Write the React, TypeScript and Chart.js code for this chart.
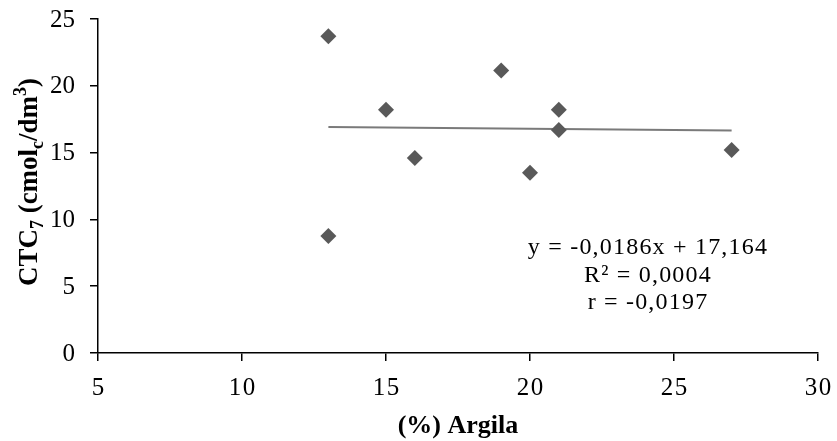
import React, { useEffect, useRef } from "react";
import { Chart, registerables } from "chart.js";

Chart.register(...registerables);

const argila = [13, 13, 15, 16, 19, 20, 21, 21, 27];
const ctc = [23.7, 8.75, 18.2, 14.6, 21.15, 13.5, 18.2, 16.7, 15.2];
const trendX = [13, 27];
const trendY = [16.922, 16.662];
const xTicks = [5, 10, 15, 20, 25, 30];
const yTicks = [0, 5, 10, 15, 20, 25];
const equationLines = ["y = -0,0186x + 17,164", "R² = 0,0004", "r = -0,0197"];

const SERIF = "'Liberation Serif', 'Times New Roman', serif";

type Seg = { t: string; mode: "n" | "sub" | "sup" };
const yTitleSegs: Seg[] = [
  { t: "CTC", mode: "n" },
  { t: "7", mode: "sub" },
  { t: " (cmol", mode: "n" },
  { t: "c", mode: "sub" },
  { t: "/dm", mode: "n" },
  { t: "3", mode: "sup" },
  { t: ")", mode: "n" },
];

const textPlugin = {
  id: "customText",
  afterDraw(chart: any) {
    const { ctx, chartArea, scales } = chart;
    ctx.save();
    ctx.fillStyle = "#000";

    // Tick labels
    ctx.font = `25px ${SERIF}`;
    ctx.textBaseline = "alphabetic";
    ctx.textAlign = "center";
    (ctx as any).letterSpacing = "1.5px";
    xTicks.forEach((v) => {
      ctx.fillText(String(v), scales.x.getPixelForValue(v) + 0.75, 395);
    });
    (ctx as any).letterSpacing = "0px";
    ctx.textAlign = "right";
    yTicks.forEach((v) => {
      ctx.fillText(String(v), 75, scales.y.getPixelForValue(v) + 7.5);
    });

    // X title
    ctx.font = `bold 26px ${SERIF}`;
    ctx.textAlign = "center";
    ctx.fillText("(%) Argila", (chartArea.left + chartArea.right) / 2, 433);

    // Y title with sub/superscripts
    const size = 27;
    ctx.save();
    ctx.translate(37, 182);
    ctx.rotate(-Math.PI / 2);
    ctx.textAlign = "left";
    const small = Math.round(size * 0.65);
    let total = 0;
    const widths = yTitleSegs.map((s) => {
      ctx.font = `bold ${s.mode === "n" ? size : small}px ${SERIF}`;
      const w = ctx.measureText(s.t).width;
      total += w;
      return w;
    });
    let x = -total / 2;
    yTitleSegs.forEach((s, i) => {
      ctx.font = `bold ${s.mode === "n" ? size : small}px ${SERIF}`;
      const dy = s.mode === "sub" ? size * 0.22 : s.mode === "sup" ? -size * 0.4 : 0;
      ctx.fillText(s.t, x, dy);
      x += widths[i];
    });
    ctx.restore();

    // Equation annotation
    ctx.font = `24px ${SERIF}`;
    (ctx as any).letterSpacing = "1.2px";
    ctx.textAlign = "center";
    const baselines = [254, 282, 309];
    equationLines.forEach((line, i) => {
      ctx.fillText(line, 648, baselines[i]);
    });
    ctx.restore();
  },
};

export default function App() {
  const ref = useRef<HTMLCanvasElement | null>(null);
  useEffect(() => {
    document.body.style.margin = "0";
    const canvas = ref.current!;
    const gridOpts = { drawOnChartArea: false, drawTicks: true, tickLength: 8, color: "#000", lineWidth: 1.5 };
    const chart = new Chart(canvas, {
      type: "scatter",
      data: {
        datasets: [
          {
            label: "Trend",
            data: trendX.map((x, i) => ({ x, y: trendY[i] })),
            showLine: true,
            borderColor: "#7a7a7a",
            borderWidth: 2,
            pointRadius: 0,
            order: 2,
          },
          {
            label: "CTC",
            data: argila.map((x, i) => ({ x, y: ctc[i] })),
            pointStyle: "rectRot",
            pointRadius: 8,
            pointBackgroundColor: "#595959",
            pointBorderColor: "#595959",
            pointBorderWidth: 0,
            order: 1,
          },
        ],
      },
      options: {
        animation: false,
        responsive: false,
        layout: { padding: { left: 0, right: 19, top: 19, bottom: 0 } },
        plugins: { legend: { display: false }, tooltip: { enabled: false } },
        scales: {
          x: {
            type: "linear",
            min: 5,
            max: 30,
            afterBuildTicks: (s: any) => {
              s.ticks = xTicks.map((v) => ({ value: v }));
            },
            afterFit: (s: any) => {
              s.height = 88;
            },
            grid: gridOpts,
            border: { display: true, color: "#000", width: 1.5 },
            ticks: { display: false },
          },
          y: {
            type: "linear",
            min: 0,
            max: 25,
            afterBuildTicks: (s: any) => {
              s.ticks = yTicks.map((v) => ({ value: v }));
            },
            afterFit: (s: any) => {
              s.width = 98;
            },
            grid: gridOpts,
            border: { display: true, color: "#000", width: 1.5 },
            ticks: { display: false },
          },
        },
      },
      plugins: [textPlugin],
    });
    return () => chart.destroy();
  }, []);
  return (
    <div style={{ width: 837, height: 441 }}>
      <canvas ref={ref} width={837} height={441} style={{ display: "block" }} />
    </div>
  );
}
